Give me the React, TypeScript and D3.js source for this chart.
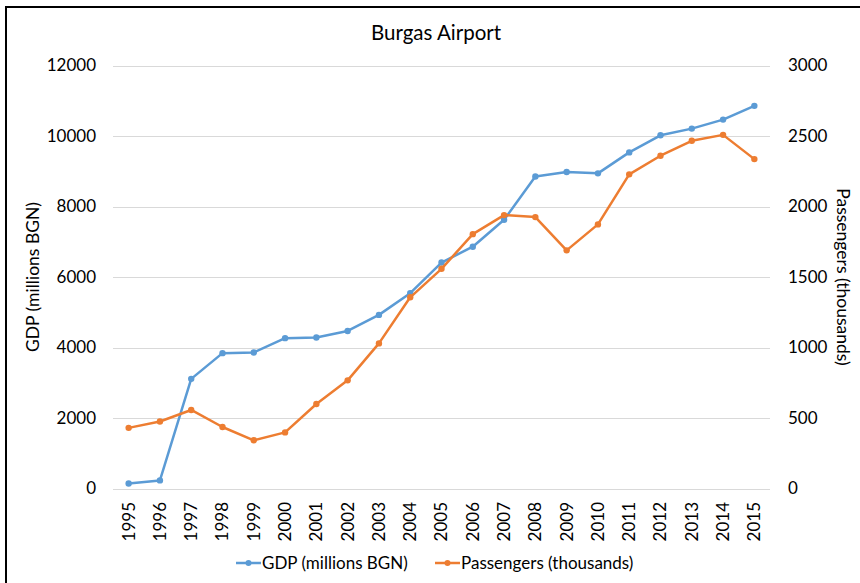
import React, { useEffect, useRef } from 'react';
import * as d3 from 'd3';

const years = ['1995', '1996', '1997', '1998', '1999', '2000', '2001', '2002', '2003', '2004', '2005',
  '2006', '2007', '2008', '2009', '2010', '2011', '2012', '2013', '2014', '2015'];
const gdp = [140, 230, 3110, 3840, 3860, 4265, 4285, 4470, 4925, 5540, 6410,
  6860, 7625, 8850, 8980, 8940, 9535, 10020, 10210, 10465, 10855];
const passengers = [430, 475, 557, 436, 342, 398, 599, 767, 1029, 1356, 1558,
  1804, 1939, 1925, 1689, 1873, 2228, 2360, 2466, 2508, 2336];
const leftTicks = [0, 2000, 4000, 6000, 8000, 10000, 12000];
const rightTicks = [0, 500, 1000, 1500, 2000, 2500, 3000];

const BLUE = '#5B9BD5';
const ORANGE = '#ED7D31';
const FONT = 'Lato, "Open Sans", sans-serif';

const App = () => {
  const ref = useRef<SVGSVGElement>(null);

  useEffect(() => {
    const svg = d3.select(ref.current);
    svg.selectAll('*').remove();

    const left = 113, right = 770, top = 65.5, bottom = 488.5;

    const x = d3.scaleBand().domain(years).range([left, right]);
    const cx = (d: string) => (x(d) as number) + x.bandwidth() / 2;
    const yL = d3.scaleLinear().domain([0, 12000]).range([bottom, top]);
    const yR = d3.scaleLinear().domain([0, 3000]).range([bottom, top]);

    // frame
    svg.append('rect')
      .attr('x', 6).attr('y', 7).attr('width', 900).attr('height', 600)
      .attr('fill', 'white').attr('stroke', 'black').attr('stroke-width', 2);

    // gridlines
    svg.append('g').selectAll('line').data(leftTicks).enter().append('line')
      .attr('x1', left).attr('x2', right)
      .attr('y1', d => Math.round(yL(d)) + 0.5).attr('y2', d => Math.round(yL(d)) + 0.5)
      .attr('stroke', '#d9d9d9').attr('stroke-width', 1);

    // left tick labels
    svg.append('g').selectAll('text').data(leftTicks).enter().append('text')
      .attr('x', 96).attr('y', d => yL(d)).attr('dy', '0.35em')
      .attr('text-anchor', 'end').attr('font-size', 17).attr('font-family', FONT)
      .attr('fill', '#000').text(d => String(d));

    // right tick labels
    svg.append('g').selectAll('text').data(rightTicks).enter().append('text')
      .attr('x', 788).attr('y', d => yR(d)).attr('dy', '0.35em')
      .attr('text-anchor', 'start').attr('font-size', 17).attr('font-family', FONT)
      .attr('fill', '#000').text(d => String(d));

    // x labels
    svg.append('g').selectAll('text').data(years).enter().append('text')
      .attr('transform', d => `translate(${cx(d)},502) rotate(-90)`)
      .attr('dy', '0.35em').attr('text-anchor', 'end')
      .attr('font-size', 17).attr('font-family', FONT).attr('fill', '#000')
      .text(d => d);

    // title
    svg.append('text').attr('x', 436).attr('y', 40).attr('text-anchor', 'middle')
      .attr('font-size', 20.5).attr('font-family', FONT).attr('fill', '#000')
      .text('Burgas Airport');

    // axis titles
    svg.append('text').attr('transform', `translate(33,${(top + bottom) / 2}) rotate(-90)`)
      .attr('dy', '0.35em').attr('text-anchor', 'middle')
      .attr('font-size', 17.5).attr('font-family', FONT).attr('fill', '#000')
      .text('GDP (millions BGN)');
    svg.append('text').attr('transform', `translate(843,${(top + bottom) / 2}) rotate(90)`)
      .attr('dy', '0.35em').attr('text-anchor', 'middle')
      .attr('font-size', 17.5).attr('font-family', FONT).attr('fill', '#000')
      .text('Passengers (thousands)');

    const series = [
      { values: gdp, y: yL, color: BLUE },
      { values: passengers, y: yR, color: ORANGE },
    ];

    series.forEach(s => {
      const pts: [number, number][] = years.map((yr, i) => [cx(yr), s.y(s.values[i])]);
      svg.append('path')
        .attr('d', d3.line()(pts))
        .attr('fill', 'none').attr('stroke', s.color).attr('stroke-width', 2.5)
        .attr('stroke-linejoin', 'round').attr('stroke-linecap', 'round');
      svg.append('g').selectAll('circle').data(pts).enter().append('circle')
        .attr('cx', d => d[0]).attr('cy', d => d[1]).attr('r', 3.2)
        .attr('fill', s.color);
    });

    // legend
    const legend = [
      { label: 'GDP (millions BGN)', color: BLUE, x0: 236 },
      { label: 'Passengers (thousands)', color: ORANGE, x0: 435 },
    ];
    const ly = 563;
    legend.forEach(l => {
      svg.append('line').attr('x1', l.x0).attr('x2', l.x0 + 25)
        .attr('y1', ly).attr('y2', ly).attr('stroke', l.color).attr('stroke-width', 2.5);
      svg.append('circle').attr('cx', l.x0 + 12.5).attr('cy', ly).attr('r', 3).attr('fill', l.color);
      svg.append('text').attr('x', l.x0 + 26).attr('y', ly).attr('dy', '0.35em')
        .attr('font-size', 17).attr('font-family', FONT).attr('fill', '#000')
        .text(l.label);
    });
  }, []);

  return (
    <svg ref={ref} width={860} height={583}
      style={{ position: 'absolute', left: 0, top: 0, background: 'white' }} />
  );
};

export default App;
